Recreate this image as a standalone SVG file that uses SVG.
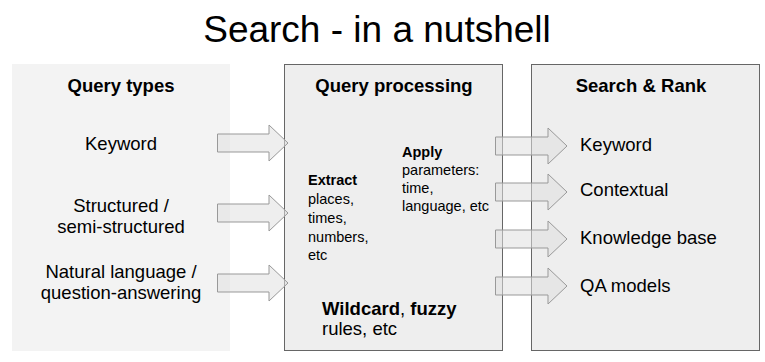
<svg xmlns="http://www.w3.org/2000/svg" width="765" height="362" viewBox="0 0 765 362">
<style>
text{font-family:"Liberation Sans",Arial,sans-serif;fill:#000}
.h{font-weight:bold;font-size:18.5px;text-anchor:middle}
.t{font-size:18.5px}
.c{text-anchor:middle}
.s{font-size:14.5px}
.b{font-weight:bold}
.box{fill:#eeeeee;stroke:#666666;stroke-width:1}
.arr{fill:#e0e0e0;fill-opacity:0.55;stroke:#999999;stroke-width:1}
</style>
<rect width="765" height="362" fill="#ffffff"/>
<text x="377" y="42" font-size="37" text-anchor="middle">Search - in a nutshell</text>
<g id="query-types">
<rect x="12" y="64" width="218" height="287" fill="#f3f3f3"/>
<text class="h" x="121" y="92">Query types</text>
<text class="t c" x="121" y="150">Keyword</text>
<text class="t c" x="121" y="212">Structured /</text>
<text class="t c" x="121" y="233">semi-structured</text>
<text class="t c" x="121" y="278">Natural language /</text>
<text class="t c" x="121" y="299">question-answering</text>
</g>
<g id="query-processing">
<rect class="box" x="284.5" y="64.5" width="218" height="286"/>
<text class="h" x="394" y="92">Query processing</text>
<text class="s" x="308"><tspan class="b" x="308" y="185">Extract</tspan><tspan x="308" y="204">places,</tspan><tspan x="308" y="223">times,</tspan><tspan x="308" y="242">numbers,</tspan><tspan x="308" y="260">etc</tspan></text>
<text class="s" x="402"><tspan class="b" x="402" y="157">Apply</tspan><tspan x="402" y="175">parameters:</tspan><tspan x="402" y="193">time,</tspan><tspan x="402" y="211">language, etc</tspan></text>
<text class="t" x="322" y="315"><tspan class="b">Wildcard</tspan>, <tspan class="b">fuzzy</tspan></text>
<text class="t" x="322" y="335">rules, etc</text>
</g>
<g id="search-rank">
<rect class="box" x="531.5" y="64.5" width="228" height="286"/>
<text class="h" x="641" y="92">Search &amp; Rank</text>
<text class="t" x="580" y="151">Keyword</text>
<text class="t" x="580" y="196">Contextual</text>
<text class="t" x="580" y="244">Knowledge base</text>
<text class="t" x="580" y="292">QA models</text>
</g>
<g id="connectors">
<path class="arr" d="M217.5,134 H269 V125 L288,143 L269,161 V152 H217.5 Z"/>
<path class="arr" d="M217.5,204 H269 V195 L288,213 L269,231 V222 H217.5 Z"/>
<path class="arr" d="M217.5,274 H269 V265 L288,283 L269,301 V292 H217.5 Z"/>
<path class="arr" d="M495.5,137 H548 V128 L567,146 L548,164 V155 H495.5 Z"/>
<path class="arr" d="M495.5,183 H548 V174 L567,192 L548,210 V201 H495.5 Z"/>
<path class="arr" d="M495.5,230 H548 V221 L567,239 L548,257 V248 H495.5 Z"/>
<path class="arr" d="M495.5,277 H548 V268 L567,286 L548,304 V295 H495.5 Z"/>
</g>
</svg>
